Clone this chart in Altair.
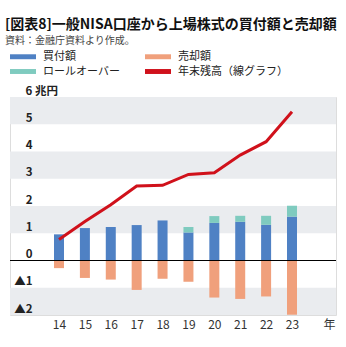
import altair as alt
import pandas as pd

years = [14, 15, 16, 17, 18, 19, 20, 21, 22, 23]
buy = [0.96, 1.19, 1.23, 1.30, 1.47, 1.03, 1.38, 1.42, 1.31, 1.61]
rollover = [0.0, 0.0, 0.0, 0.0, 0.0, 0.20, 0.25, 0.22, 0.33, 0.40]
sell = [0.28, 0.64, 0.70, 1.08, 0.67, 0.78, 1.36, 1.41, 1.32, 1.99]
balance = [0.77, 1.43, 2.05, 2.73, 2.76, 3.16, 3.22, 3.87, 4.36, 5.46]

names = ["買付額", "売却額", "ロールオーバー", "年末残高（線グラフ）"]
colors = ["#4F81C4", "#F0A07C", "#7FCBBF", "#D0111B"]

band_lo = [5, 3, 1, -2]
band_hi = [6, 4, 2, -1]
y_ticks = [-2, -1, 0, 1, 2, 3, 4, 5, 6]

FONT = "Noto Sans CJK JP"
W, H = 326, 218

rows = []
for i, yr in enumerate(years):
    rows.append({"year": yr, "type": names[0], "y0": 0, "y1": buy[i]})
    if rollover[i] > 0:
        rows.append({"year": yr, "type": names[2], "y0": buy[i], "y1": buy[i] + rollover[i]})
    rows.append({"year": yr, "type": names[1], "y0": -sell[i], "y1": 0})
bars_df = pd.DataFrame(rows)
line_df = pd.DataFrame({"year": years, "balance": balance})
band_df = pd.DataFrame({"lo": band_lo, "hi": band_hi})

xscale = alt.Scale(domain=[12.107, 24.70], nice=False, zero=False, padding=0)
yscale = alt.Scale(domain=[-2, 6], nice=False, padding=0)

yaxis = alt.Axis(values=y_ticks, title=None, zindex=1,
                 grid=False, domain=False, ticks=False, labelOverlap=False, labelBound=False,
                 labelExpr="datum.value == 6 ? '6 兆円' : (datum.value < 0 ? '▲' + abs(datum.value) : '' + datum.value)",
                 labelAlign=alt.condition("datum.value == 6", alt.value("left"), alt.value("right")),
                 labelPadding=alt.condition("datum.value == 6", alt.value(-15), alt.value(-22)),
                 labelBaseline="bottom", labelOffset=-1,
                 labelFont=FONT, labelFontSize=11.5, labelFontWeight="bold",
                 labelColor="#222")
xaxis = alt.Axis(values=years + [24.43], title=None, grid=False, domain=False, zindex=1,
                 ticks=False, labelPadding=4, labelOverlap=False, labelBound=False,
                 labelExpr="datum.value > 24 ? '年' : '' + datum.value",
                 labelFont=FONT, labelFontSize=12, labelColor="#333")

bands = alt.Chart(band_df).mark_rect(color="#EAECEF").encode(
    x=alt.value(0), x2=alt.value(W),
    y=alt.Y("lo:Q", scale=yscale, axis=yaxis),
    y2="hi:Q",
)

bars = alt.Chart(bars_df).mark_bar(size=10).encode(
    x=alt.X("year:Q", scale=xscale, axis=xaxis),
    y=alt.Y("y0:Q", scale=yscale, axis=yaxis),
    y2="y1:Q",
    color=alt.Color("type:N", scale=alt.Scale(domain=names, range=colors),
                    legend=alt.Legend(orient="none", legendX=0, legendY=-47, title=None,
                                      columns=2, direction="horizontal",
                                      symbolType="M-1,-0.38H3V0.38H-1Z", symbolSize=169,
                                      symbolStrokeWidth=0, labelOffset=20,
                                      columnPadding=25, rowPadding=3, padding=0,
                                      labelFont=FONT, labelFontSize=11, labelColor="#222")),
)

zero = alt.Chart(pd.DataFrame({"v": [0]})).mark_rule(color="#000", strokeWidth=1.2).encode(
    y=alt.Y("v:Q", scale=yscale, axis=yaxis), x=alt.value(0), x2=alt.value(W)
)

line = alt.Chart(line_df).mark_line(color="#D0111B", strokeWidth=3).encode(
    x=alt.X("year:Q", scale=xscale, axis=xaxis),
    y=alt.Y("balance:Q", scale=yscale, axis=yaxis),
)

chart = alt.layer(bands, bars, zero, line).properties(
    width=W, height=H,
    title=alt.TitleParams(
        text="[図表8]一般NISA口座から上場株式の買付額と売却額",
        subtitle="資料：金融庁資料より作成。",
        anchor="start", frame="group", dx=-5, offset=4,
        font=FONT, fontSize=14, fontWeight="bold", color="#111",
        subtitleFont=FONT, subtitleFontSize=10, subtitleColor="#444", subtitlePadding=4,
    ),
    autosize=alt.AutoSizeParams(type="none"),
    padding={"left": 10, "top": 97, "right": 10, "bottom": 32},
).configure_view(stroke=None).configure_axis(labelOverlap=False).configure(background="white")

chart.save("out.html", embed_options={"renderer": "svg", "actions": False})
